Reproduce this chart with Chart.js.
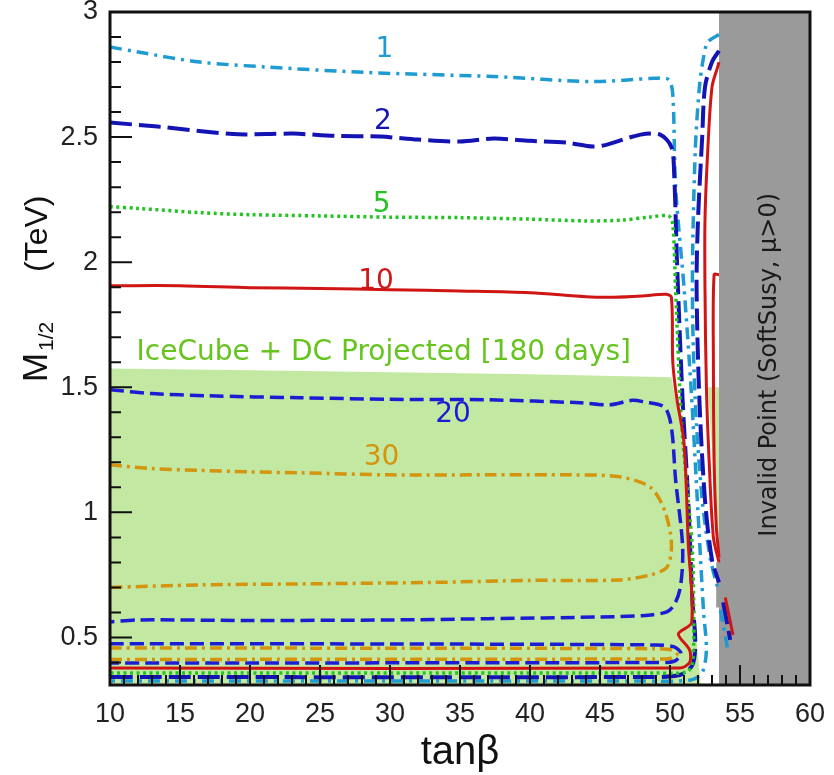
<!DOCTYPE html>
<html>
<head>
<meta charset="utf-8">
<script src="https://cdn.jsdelivr.net/npm/chart.js@4.4.1/dist/chart.umd.min.js"></script>
<style>
  html, body { margin: 0; padding: 0; background: #fff; }
</style>
</head>
<body>
<canvas id="chart" width="834" height="775"></canvas>
<script>
// axis ranges / ticks
const yMin = 0.31, yMax = 3;
const xTicks = [10, 15, 20, 25, 30, 35, 40, 45, 50, 55, 60];
const yTicks = [0.5, 1, 1.5, 2, 2.5, 3];

// contour levels and their label spots [tanb, M1/2]
const levels = ['1', '2', '5', '10', '20', '30'];
const labelX = [29.6, 29.5, 29.4, 29.0, 34.5, 29.4];
const labelY = [2.85, 2.56, 2.23, 1.92, 1.39, 1.22];

// contour 1 (cyan dash-dot)
const c1Main = [[10,2.86],[12,2.84],[16.4,2.80],[21.2,2.78],[28.4,2.758],[37.4,2.742],[44.5,2.722],[48.9,2.735],[49.9,2.73],[50.2,2.67],[50.4,2.3],[51.0,1.9],[51.5,1.5],[52.0,1.0],[52.4,0.6],[52.6,0.45],[52.3,0.36],[51.5,0.33],[48,0.326],[10,0.326]];
const c1Right = [[53.5,2.91],[52.7,2.88],[52.4,2.82],[52.1,2.70],[51.8,2.44],[51.6,1.90],[51.8,1.45],[52.3,1.05],[52.9,0.81],[53.4,0.70],null,[53.6,0.61],[54.1,0.46]];
// contour 2 (dark blue long dash)
const c2Main = [[10,2.558],[13.4,2.542],[18.8,2.512],[21.2,2.512],[23.1,2.514],[26,2.505],[29.3,2.502],[32,2.49],[35,2.482],[37.4,2.494],[40,2.485],[42.6,2.478],[44.5,2.462],[45.5,2.47],[47.9,2.51],[49.3,2.51],[50.1,2.46],[50.3,2.35],[50.5,2.0],[50.9,1.45],[51.3,1.05],[51.6,0.65],[51.8,0.49],[51.6,0.39],[50.7,0.35],[47.9,0.342],[10,0.342]];
const c2Right = [[53.5,2.845],[53.0,2.80],[52.5,2.70],[52.3,2.50],[52.0,2.17],[51.9,1.90],[52.1,1.45],[52.5,1.05],[53.0,0.81],[53.5,0.72],null,[53.8,0.64],[54.3,0.49]];
// contour 5 (green dotted)
const c5Main = [[10,2.222],[12,2.215],[16.4,2.198],[20,2.19],[25,2.185],[30,2.18],[35,2.178],[40,2.172],[44,2.165],[46.5,2.168],[48.5,2.18],[49.9,2.185],[50.2,2.15],[50.4,1.89],[50.8,1.38],[51.3,1.05],[51.6,0.85],[51.7,0.55],[51.6,0.40],[51.2,0.362],[49,0.358],[10,0.358]];
// contour 10 (red solid)
const c10Main = [[10,1.906],[15,1.906],[20,1.898],[25,1.895],[30,1.89],[35,1.885],[40,1.878],[44,1.862],[46,1.86],[48,1.865],[49.7,1.872],[50.1,1.86],[50.2,1.6],[50.5,1.45],[51.0,1.28],[51.3,0.88],[51.55,0.56],[50.6,0.514],[51.4,0.45],[51.4,0.40],[50.7,0.378],[10,0.378]];
const c10Right = [[53.5,2.80],[53.4,2.78],[53.0,2.70],[52.7,2.45],[52.5,2.17],[52.5,1.89],[52.6,1.5],[52.8,1.2],[53.1,0.9],[53.5,0.8],null,[53.95,0.66],[54.5,0.51]];
const c10Box = [[53.5,1.95],[53.15,1.95],[53.1,1.6],[53.15,1.2],[53.3,0.95],[53.5,0.82]];
// contour 20 (blue dashed)
const c20Main = [[10,1.49],[13,1.475],[17,1.466],[23.6,1.458],[30,1.452],[37,1.45],[43.6,1.438],[45.7,1.43],[47.3,1.448],[48.1,1.442],[49.6,1.42],[50.1,1.34],[50.4,1.13],[50.9,0.862],[50.7,0.69],[50.0,0.61],[48.6,0.59],[45,0.582],[37,0.575],[30,0.57],[20,0.568],[12,0.57],[10,0.562]];
const c20Low = [[10,0.475],[30,0.474],[49,0.47],[50.3,0.462],[50.8,0.435],[50.3,0.405],[49,0.40],[10,0.398]];
// contour 30 (orange dash-dot)
const c30Main = [[10,1.19],[13,1.175],[16.4,1.168],[20,1.162],[23.6,1.158],[30,1.15],[37,1.15],[43,1.15],[46.4,1.142],[48.6,1.10],[49.6,1.01],[50.1,0.878],[49.8,0.782],[48.6,0.75],[46.4,0.73],[40,0.728],[33,0.72],[23.6,0.714],[16.4,0.71],[10,0.70]];
const c30Low = [[10,0.458],[30,0.457],[49,0.455],[50.1,0.45],[50.5,0.432],[50.0,0.416],[49,0.414],[10,0.412]];

// IceCube + DC projected region, and invalid region
const iceFill = [[10,0.31],[10,1.575],[20,1.568],[30,1.56],[40,1.552],[46,1.545],[50.1,1.54],[50.9,1.29],[51.4,0.88],[51.8,0.55],[52.2,0.31]];
const iceFillRight = [[52.7,1.50],[53.5,1.50],[53.5,0.84]];
const invalidFill = [[53.5,0.31],[53.5,0.62],[53.3,0.62],[53.3,0.80],[53.5,0.80],[53.5,3],[60,3],[60,0.31]];

const pts = a => a.map(p => p ? { x: p[0], y: p[1] } : { x: null, y: null });

const cCyan = '#1e9bd0', cNavy = '#1414b4', cGreen = '#22c322', cRed = '#d01515', cBlue = '#1c1cd4', cOrange = '#d4940c';
const labelColors = [cCyan, cNavy, cGreen, cRed, cBlue, cOrange];

function line(data, color, dash, width) {
  return { data: pts(data), borderColor: color, borderDash: dash, borderWidth: width,
    pointRadius: 0, tension: 0.3, fill: false, spanGaps: false, order: 0 };
}
function area(data, color) {
  return { data: pts(data), borderColor: 'rgba(0,0,0,0)', borderWidth: 0, backgroundColor: color,
    pointRadius: 0, tension: 0, fill: 'shape', order: 5 };
}

const datasets = [
  area(invalidFill, '#9a9a9a'),
  area(iceFill, '#c3e8a1'),
  area(iceFillRight, '#c3e8a1'),
  line(c30Main, cOrange, [12,5,3,5], 3.5),
  line(c30Low, cOrange, [12,5,3,5], 3.5),
  line(c20Main, cBlue, [14,6], 3.5),
  line(c20Low, cBlue, [14,6], 3.5),
  line(c10Main, cRed, [], 3),
  line(c10Right, cRed, [], 3),
  line(c10Box, cRed, [], 3),
  line(c5Main, cGreen, [3,3.5], 3.5),
  line(c2Main, cNavy, [22,7], 4),
  line(c2Right, cNavy, [22,7], 4),
  line(c1Main, cCyan, [12,6,3,6], 3.5),
  line(c1Right, cCyan, [12,6,3,6], 3.5)
];

const decor = {
  id: 'decor',
  afterDatasetsDraw(chart) {
    const { ctx, chartArea: a, scales: { x, y } } = chart;
    ctx.save();
    // contour labels
    ctx.textAlign = 'center';
    ctx.textBaseline = 'middle';
    ctx.font = '28px "DejaVu Sans"';
    levels.forEach((t, i) => {
      ctx.fillStyle = labelColors[i];
      ctx.fillText(t, x.getPixelForValue(labelX[i]), y.getPixelForValue(labelY[i]));
    });
    ctx.fillStyle = '#66c41e';
    ctx.textAlign = 'left';
    ctx.fillText('IceCube + DC Projected [180 days]', x.getPixelForValue(11.9), y.getPixelForValue(1.638));

    // invalid region text
    ctx.save();
    ctx.translate(x.getPixelForValue(57.1), y.getPixelForValue(1.59));
    ctx.rotate(-Math.PI / 2);
    ctx.textAlign = 'center';
    ctx.fillStyle = '#1a1a1a';
    ctx.font = '24px "DejaVu Sans"';
    ctx.fillText('Invalid Point (SoftSusy, \u03bc>0)', 0, 0);
    ctx.restore();

    // inward ticks
    ctx.strokeStyle = '#111';
    ctx.lineWidth = 2;
    ctx.beginPath();
    for (let v = 11; v < 60; v++) {
      const px = x.getPixelForValue(v);
      const len = v % 5 === 0 ? 20 : 10;
      ctx.moveTo(px, a.bottom);
      ctx.lineTo(px, a.bottom - len);
    }
    for (let i = 4; i < 30; i++) {
      const py = y.getPixelForValue(i / 10);
      const len = i % 5 === 0 ? 22 : 11;
      ctx.moveTo(a.left, py);
      ctx.lineTo(a.left + len, py);
    }
    ctx.stroke();

    // frame
    ctx.lineWidth = 3;
    ctx.strokeRect(a.left, a.top, a.right - a.left, a.bottom - a.top);

    // axis titles
    ctx.fillStyle = '#111';
    ctx.textAlign = 'center';
    ctx.textBaseline = 'alphabetic';
    ctx.font = '40px "Liberation Sans"';
    ctx.fillText('tan\u03b2', (a.left + a.right) / 2, 764);

    ctx.translate(47, 382);
    ctx.rotate(-Math.PI / 2);
    ctx.textAlign = 'left';
    ctx.font = '35px "Liberation Sans"';
    ctx.fillText('M', 0, 0);
    ctx.font = '21px "Liberation Sans"';
    ctx.fillText('1/2', 31, 6);
    ctx.font = '32px "Liberation Sans"';
    ctx.fillText('(TeV)', 110, 0);
    ctx.restore();
  }
};

new Chart(document.getElementById('chart'), {
  type: 'line',
  data: { datasets },
  plugins: [decor],
  options: {
    responsive: false,
    animation: false,
    layout: { padding: { left: 0, top: 12, right: 24, bottom: 0 } },
    plugins: { legend: { display: false }, tooltip: { enabled: false } },
    scales: {
      x: {
        type: 'linear', min: 10, max: 60,
        afterBuildTicks(s) { s.ticks = xTicks.map(v => ({ value: v })); },
        afterFit(s) { s.height = 90; s.paddingLeft = 0; s.paddingRight = 0; },
        grid: { display: false }, border: { display: false },
        ticks: { font: { family: 'Liberation Sans', size: 27 }, color: '#222', padding: 5, maxRotation: 0, autoSkip: false, callback: v => String(v) }
      },
      y: {
        type: 'linear', min: yMin, max: yMax,
        afterBuildTicks(s) { s.ticks = yTicks.map(v => ({ value: v })); },
        afterFit(s) { s.width = 110; s.paddingTop = 0; s.paddingBottom = 0; },
        grid: { display: false }, border: { display: false },
        ticks: { font: { family: 'Liberation Sans', size: 27 }, color: '#222', padding: 4, autoSkip: false, callback: v => String(v) }
      }
    }
  }
});
</script>
</body>
</html>
